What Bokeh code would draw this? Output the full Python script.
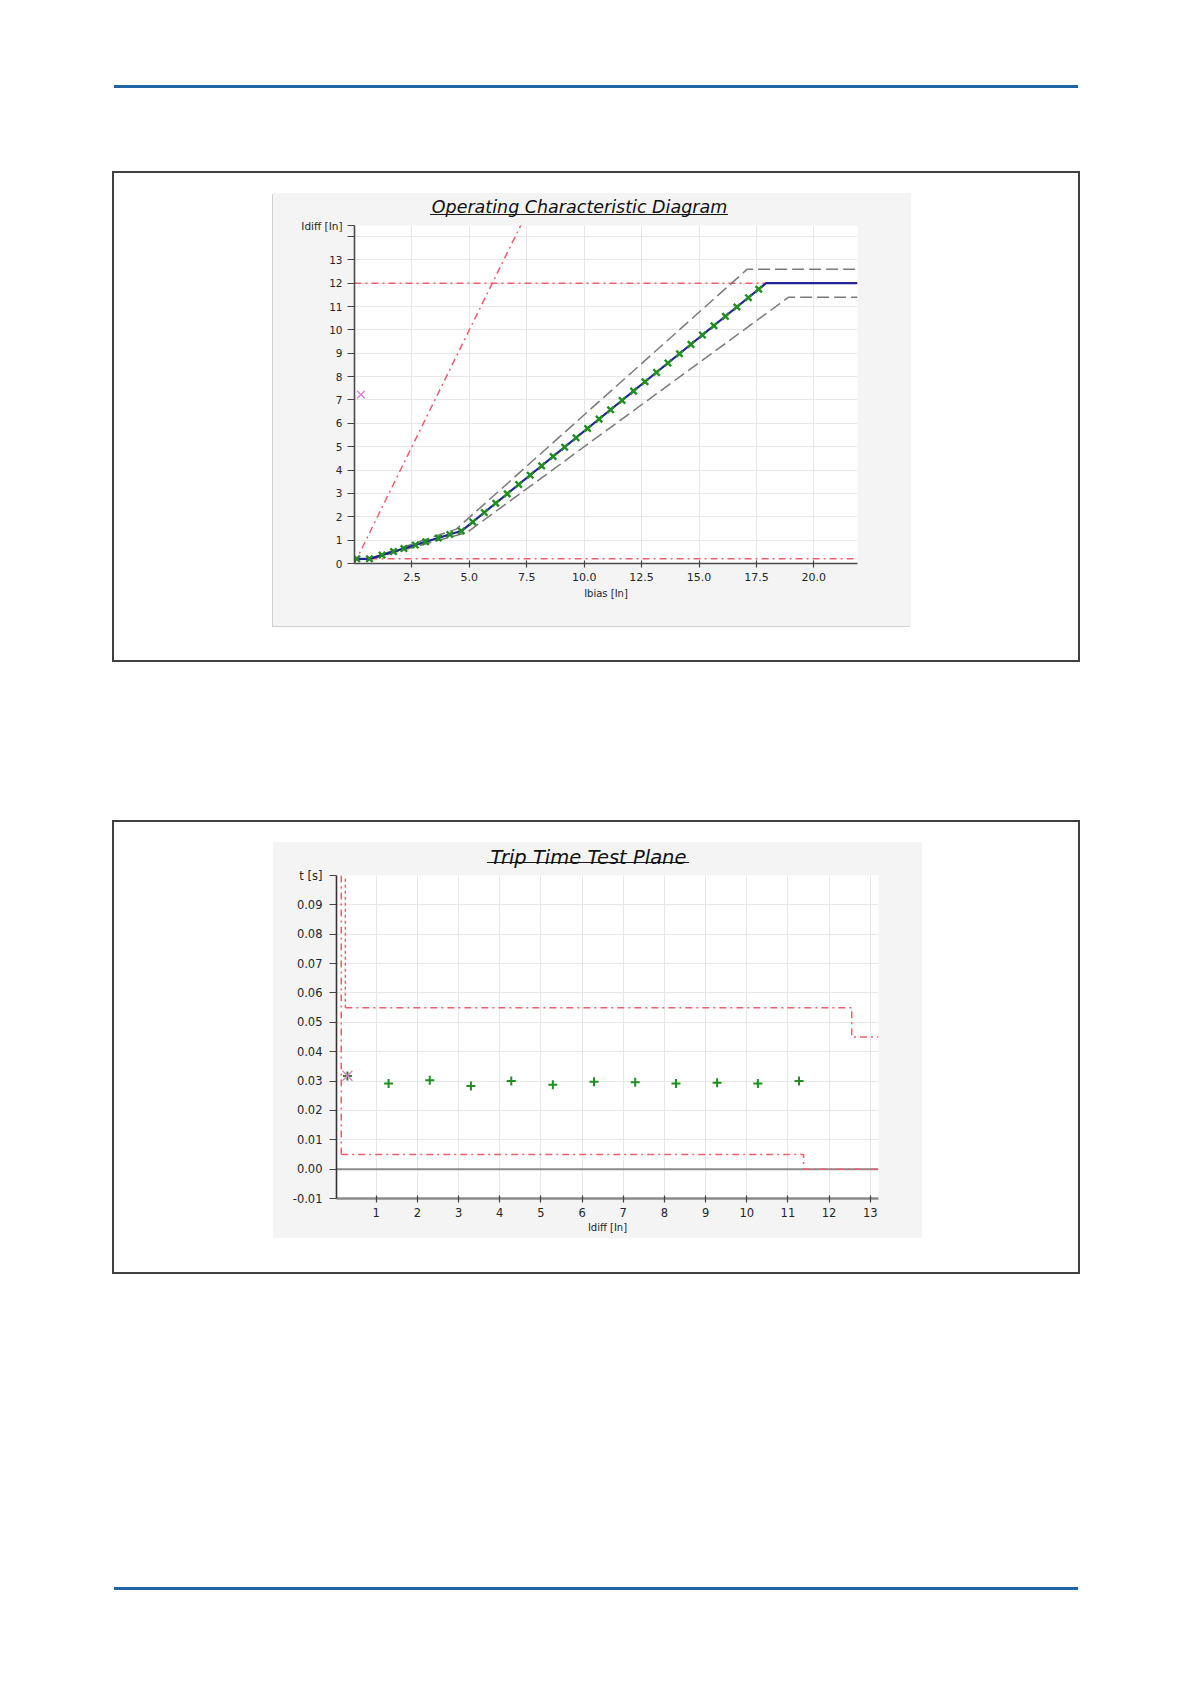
from bokeh.plotting import figure
from bokeh.models import Range1d, FixedTicker, Span, Spacer, Div, LinearAxis
from bokeh.layouts import column, row
from bokeh.embed import file_html
from bokeh.resources import INLINE

# ---------------- Chart 1 : Operating Characteristic Diagram ----------------
ocd_title = "Operating Characteristic Diagram"
ocd_xlabel = "Ibias [In]"
ocd_ylabel = "Idiff [In]"
ocd_xticks = [2.5, 5.0, 7.5, 10.0, 12.5, 15.0, 17.5, 20.0]
ocd_xtick_labels = ["2.5", "5.0", "7.5", "10.0", "12.5", "15.0", "17.5", "20.0"]
ocd_yticks = [0, 1, 2, 3, 4, 5, 6, 7, 8, 9, 10, 11, 12, 13, 14]
ocd_ytick_labels = ["0", "1", "2", "3", "4", "5", "6", "7", "8", "9", "10", "11", "12", "13", ""]

char_ibias = [0.0, 0.67, 4.67, 17.92, 21.9]
char_idiff = [0.2, 0.2, 1.4, 12.0, 12.0]
tol_up_ibias = [0.64, 4.43, 17.1, 21.9]
tol_up_idiff = [0.21, 1.47, 12.6, 12.6]
tol_lo_ibias = [0.70, 4.90, 18.9, 21.9]
tol_lo_idiff = [0.19, 1.33, 11.4, 11.4]
lim_slope_ibias = [0.0, 7.5]
lim_slope_idiff = [0.0, 15.0]
lim_high_ibias = [0.0, 17.85]
lim_high_idiff = [12.0, 12.0]
lim_low_ibias = [0.7, 21.9]
lim_low_idiff = [0.2, 0.2]
test_ibias = [0.1, 0.65, 1.2, 1.7, 2.15, 2.65, 3.1, 3.65, 4.15, 4.65, 5.15, 5.65, 6.15, 6.65,
              7.15, 7.65, 8.15, 8.65, 9.15, 9.65, 10.15, 10.65, 11.15, 11.65, 12.15, 12.65,
              13.15, 13.65, 14.15, 14.65, 15.15, 15.65, 16.15, 16.65, 17.15, 17.6]
test_idiff = [0.2, 0.2, 0.36, 0.51, 0.64, 0.79, 0.93, 1.09, 1.24, 1.39, 1.78, 2.18, 2.58, 2.98,
              3.38, 3.78, 4.18, 4.58, 4.98, 5.38, 5.78, 6.18, 6.58, 6.98, 7.38, 7.78,
              8.18, 8.58, 8.98, 9.38, 9.78, 10.18, 10.58, 10.98, 11.38, 11.74]
fault_ibias = [0.28]
fault_idiff = [7.23]

# ---------------- Chart 2 : Trip Time Test Plane ----------------
ttp_title = "Trip Time Test Plane"
ttp_xlabel = "Idiff [In]"
ttp_ylabel = "t [s]"
ttp_xticks = [1, 2, 3, 4, 5, 6, 7, 8, 9, 10, 11, 12, 13]
ttp_xtick_labels = ["1", "2", "3", "4", "5", "6", "7", "8", "9", "10", "11", "12", "13"]
ttp_yticks = [-0.01, 0.0, 0.01, 0.02, 0.03, 0.04, 0.05, 0.06, 0.07, 0.08, 0.09, 0.1]
ttp_ytick_labels = ["-0.01", "0.00", "0.01", "0.02", "0.03", "0.04", "0.05", "0.06",
                    "0.07", "0.08", "0.09", ""]
trip_idiff = [0.30, 1.30, 2.30, 3.30, 4.28, 5.29, 6.29, 7.29, 8.28, 9.28, 10.27, 11.27]
trip_time = [0.0317, 0.0292, 0.0303, 0.0283, 0.0300, 0.0287, 0.0298, 0.0296, 0.0292,
             0.0294, 0.0292, 0.0300]
band_up_idiff = [0.25, 12.55, 12.55, 13.2]
band_up_t = [0.055, 0.055, 0.045, 0.045]
band_lo_idiff = [0.15, 11.38, 11.38, 13.2]
band_lo_t = [0.005, 0.005, 0.0, 0.0]
band_left_idiff = [0.15, 0.15]
band_left_t = [0.005, 0.1]
band_left2_idiff = [0.25, 0.25]
band_left2_t = [0.055, 0.1]
fault2_idiff = [0.30]
fault2_t = [0.0318]

# ---------------- styles ----------------
RED = "#ef5f6e"
GREEN = "#1f8f1f"
NAVY = "#24249a"
GRAYDASH = "#7a7a7a"
PINK = "#e07ae0"
GRID = "#e7e7e7"
FONT = "DejaVu Sans"
BOXBG = "#f4f4f4"
INK = "#1a1a1a"
LABEL = "#262626"

OCD_X = (0.0, 21.9)
OCD_Y = (0.0, 14.47)
TTP_X = (0.035, 13.2)
TTP_Y = (-0.01, 0.1)

P1_W, P1_H, P1_L, P1_R, P1_T, P1_B = 638, 433, 81, 54, 32, 63
P2_W, P2_H, P2_L, P2_R, P2_T, P2_B = 649, 396, 63, 44, 30, 40


def underline_css(left, top, width, extra=None):
    css = {"background": "linear-gradient(%s,%s) %dpx %dpx / %dpx 1px no-repeat, %s"
           % (INK, INK, left, top, width, BOXBG)}
    if extra:
        css.update(extra)
    return css


def add_title(p, text, size, xr, frame_px, centre_px, standoff):
    """Title text drawn as the single label of a bare axis above the frame."""
    xc = xr[0] + centre_px / frame_px * (xr[1] - xr[0])
    ax = LinearAxis(ticker=FixedTicker(ticks=[xc]), major_label_overrides={xc: text},
                    axis_line_color=None, major_tick_line_color=None,
                    minor_tick_line_color=None, major_tick_in=0, major_tick_out=0,
                    major_label_standoff=standoff, major_label_text_font=FONT,
                    major_label_text_font_size=size, major_label_text_font_style="italic",
                    major_label_text_color="#111111")
    p.add_layout(ax, "above")


def style_axes(p, size):
    for ax in (p.xaxis[0], p.yaxis[0]):
        ax.minor_tick_line_color = None
        ax.major_label_text_font = FONT
        ax.major_label_text_font_size = size
        ax.major_label_text_color = LABEL
        ax.major_tick_line_color = "#444444"
        ax.major_tick_line_width = 1.2
        ax.axis_label_text_font = FONT
        ax.axis_label_text_font_size = "10px"
        ax.axis_label_text_font_style = "normal"
        ax.axis_label_text_color = LABEL


# ---------------- figure 1 ----------------
p1 = figure(width=P1_W, height=P1_H, x_range=Range1d(*OCD_X), y_range=Range1d(*OCD_Y),
            title=None, output_backend="svg", toolbar_location=None,
            min_border_left=P1_L, min_border_right=P1_R, min_border_top=P1_T,
            min_border_bottom=P1_B,
            border_fill_color=None, background_fill_color="white", outline_line_color=None,
            styles=underline_css(157, 21, 298, {"box-shadow": "-1px 1px 0 0 #cfcfcf"}))
yt1 = ocd_yticks + [OCD_Y[1]]
yl1 = ocd_ytick_labels + [ocd_ylabel]
p1.xaxis.ticker = FixedTicker(ticks=ocd_xticks)
p1.yaxis.ticker = FixedTicker(ticks=yt1)
p1.xaxis.major_label_overrides = dict(zip(ocd_xticks, ocd_xtick_labels))
p1.yaxis.major_label_overrides = dict(zip(yt1, yl1))
p1.xgrid.ticker = FixedTicker(ticks=ocd_xticks)
p1.ygrid.ticker = FixedTicker(ticks=ocd_yticks[1:])
p1.grid.grid_line_color = GRID
style_axes(p1, "11px")
p1.yaxis.major_label_text_font_size = "10.5px"
p1.xaxis.axis_label = ocd_xlabel
p1.xaxis.axis_label_standoff = 4
p1.yaxis.major_tick_out = 7
p1.yaxis.major_tick_in = 0
p1.yaxis.major_label_standoff = 5
p1.xaxis.major_tick_out = 4
p1.xaxis.major_tick_in = 3
p1.xaxis.major_label_standoff = 5
p1.xaxis.axis_line_color = "#4a4a4a"
p1.yaxis.axis_line_color = "#4a4a4a"
p1.xaxis.axis_line_width = 1.6
p1.yaxis.axis_line_width = 1.6
add_title(p1, ocd_title, "17.5px", OCD_X, P1_W - P1_L - P1_R, 579 - 354, 9)

p1.line(lim_slope_ibias, lim_slope_idiff, line_color=RED, line_width=1.5, line_dash="7 4 2 4")
p1.line(lim_high_ibias, lim_high_idiff, line_color=RED, line_width=1.5, line_dash="7 4 2 4")
p1.line(lim_low_ibias, lim_low_idiff, line_color=RED, line_width=1.5, line_dash="7 4 2 4")
p1.line(tol_up_ibias, tol_up_idiff, line_color=GRAYDASH, line_width=1.5, line_dash="12 5")
p1.line(tol_lo_ibias, tol_lo_idiff, line_color=GRAYDASH, line_width=1.5, line_dash="12 5")
p1.line(char_ibias, char_idiff, line_color=NAVY, line_width=2.2)
p1.scatter(test_ibias, test_idiff, marker="x", size=9, line_color=GREEN, line_width=2.4)
p1.scatter(fault_ibias, fault_idiff, marker="x", size=11, line_color=PINK, line_width=1.3)

# ---------------- figure 2 ----------------
p2 = figure(width=P2_W, height=P2_H, x_range=Range1d(*TTP_X), y_range=Range1d(*TTP_Y),
            title=None, output_backend="svg", toolbar_location=None,
            min_border_left=P2_L, min_border_right=P2_R, min_border_top=P2_T,
            min_border_bottom=P2_B,
            border_fill_color=None, background_fill_color="white", outline_line_color=None,
            styles=underline_css(214, 20, 202))
yl2 = ttp_ytick_labels[:-1] + [ttp_ylabel]
p2.xaxis.ticker = FixedTicker(ticks=ttp_xticks)
p2.yaxis.ticker = FixedTicker(ticks=ttp_yticks)
p2.xaxis.major_label_overrides = dict(zip(ttp_xticks, ttp_xtick_labels))
p2.yaxis.major_label_overrides = dict(zip(ttp_yticks, yl2))
p2.xgrid.ticker = FixedTicker(ticks=ttp_xticks)
p2.ygrid.ticker = FixedTicker(ticks=ttp_yticks[1:])
p2.grid.grid_line_color = GRID
style_axes(p2, "11.5px")
p2.xaxis.axis_label = ttp_xlabel
p2.xaxis.axis_label_standoff = 2
p2.yaxis.major_tick_out = 7
p2.yaxis.major_tick_in = 0
p2.yaxis.major_label_standoff = 7
p2.xaxis.major_tick_out = 4
p2.xaxis.major_tick_in = 3
p2.xaxis.major_label_standoff = 5
p2.yaxis.axis_line_color = "#333333"
p2.yaxis.axis_line_width = 1.6
p2.xaxis.axis_line_color = "#8a8a8a"
p2.xaxis.axis_line_width = 2.5
add_title(p2, ttp_title, "19.5px", TTP_X, P2_W - P2_L - P2_R, 588 - 336, 7)

p2.add_layout(Span(location=0.0, dimension="width", line_color="#8a8a8a", line_width=2,
                   level="underlay"))
p2.line(band_left_idiff, band_left_t, line_color=RED, line_width=1.5, line_dash="7 4 2 4")
p2.line(band_left2_idiff, band_left2_t, line_color=RED, line_width=1.5, line_dash="3 3")
p2.line(band_up_idiff, band_up_t, line_color=RED, line_width=1.5, line_dash="7 4 2 4")
p2.line(band_lo_idiff, band_lo_t, line_color=RED, line_width=1.5, line_dash="7 4 2 4")
p2.scatter(trip_idiff, trip_time, marker="cross", size=9, line_color=GREEN, line_width=2)
p2.scatter(fault2_idiff, fault2_t, marker="x", size=14, line_color=PINK, line_width=1.3)

# ---------------- page layout ----------------
BLUE = "#1f65a6"
FRAME = {"outline": "2px solid #404040", "outline-offset": "-2px"}


def blue_rule():
    return row(Spacer(width=114, height=3),
               Div(text="", width=964, height=3, margin=0,
                   styles={"background-color": BLUE}))


frame1 = column(Spacer(width=968, height=22),
                row(Spacer(width=161, height=P1_H), p1, Spacer(width=169, height=P1_H)),
                Spacer(width=968, height=36), styles=FRAME)
frame2 = column(Spacer(width=968, height=22),
                row(Spacer(width=161, height=P2_H), p2, Spacer(width=158, height=P2_H)),
                Spacer(width=968, height=36), styles=FRAME)

page = column(
    Spacer(width=1100, height=85),
    blue_rule(),
    Spacer(width=1100, height=83),
    row(Spacer(width=112, height=10), frame1),
    Spacer(width=1100, height=158),
    row(Spacer(width=112, height=10), frame2),
    Spacer(width=1100, height=313),
    blue_rule(),
)

open("out.html", "w").write(file_html(page, INLINE))
